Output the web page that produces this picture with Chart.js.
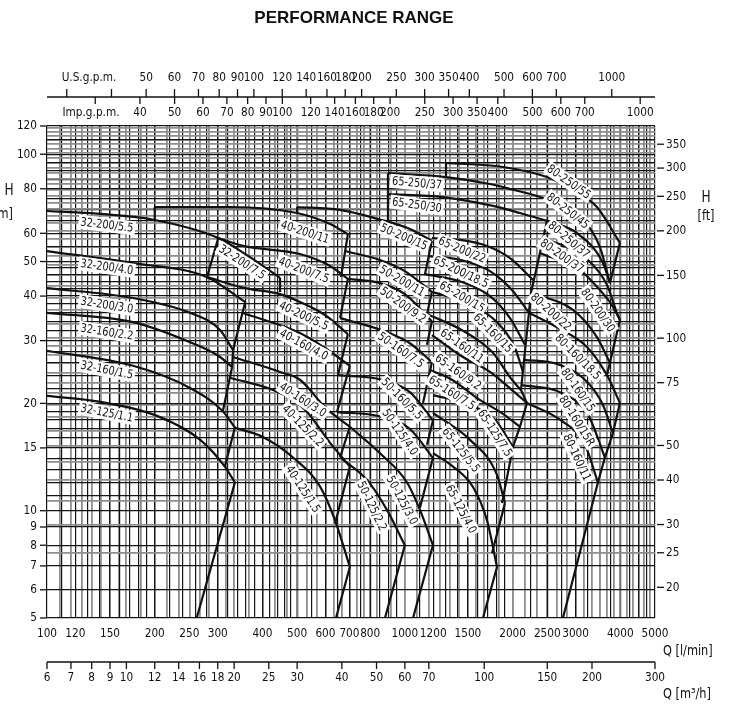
<!DOCTYPE html>
<html>
<head>
<meta charset="utf-8">
<script src="https://cdn.jsdelivr.net/npm/chart.js@4.4.1/dist/chart.umd.min.js"></script>
<style>
  html, body { margin: 0; padding: 0; background: #fff; }
  #wrap { width: 729px; height: 718px; }
</style>
</head>
<body>
<div id="wrap"><canvas id="perfChart" width="729" height="718"></canvas></div>
<script>
// tick labels of the six axes
const qTicks = [100, 120, 150, 200, 250, 300, 400, 500, 600, 700, 800, 1000, 1200, 1500, 2000, 2500, 3000, 4000, 5000];
const hTicks = [5, 6, 7, 8, 9, 10, 15, 20, 30, 40, 50, 60, 80, 100, 120];
const ftTicks = [20, 25, 30, 40, 50, 75, 100, 150, 200, 250, 300, 350];
const m3hTicks = [6, 7, 8, 9, 10, 12, 14, 16, 18, 20, 25, 30, 40, 50, 60, 70, 100, 150, 200, 300];
const usGpmTicks = [50, 60, 70, 80, 90, 100, 120, 140, 160, 180, 200, 250, 300, 350, 400, 500, 600, 700, 1000];
const usGpmMinor = [30, 40];
const impGpmTicks = [40, 50, 60, 70, 80, 90, 100, 120, 140, 160, 180, 200, 250, 300, 350, 400, 500, 600, 700, 1000];
const impGpmMinor = [30];

// pump curves, [Q l/min, H m]
const c32_200_55 = [[100, 69.3], [141, 68.0], [200, 65.4], [301, 58.2], [362, 52.1], [448, 45.0]];
const c32_200_40 = [[100, 53.5], [174, 49.5], [280, 45.2], [358, 38.5]];
const c32_200_30 = [[100, 42.1], [174, 39.5], [251, 35.9], [305, 32.1], [331, 28.2]];
const c32_160_22 = [[100, 35.9], [174, 33.8], [251, 29.7], [301, 27.2], [329, 25.3]];
const c32_160_15 = [[100, 28.1], [174, 25.5], [251, 22.1], [310, 19.0], [335, 17.1]];
const c32_125_11 = [[100, 21.0], [141, 20.2], [207, 18.3], [268, 15.8], [314, 13.3], [335, 12.0]];

const c40_200_11 = [[200, 71.1], [325, 71.1], [500, 68.4], [618, 63.7], [693, 59.7]];
const c40_200_75 = [[301, 58.2], [353, 55.3], [509, 52.5], [618, 48.6], [693, 44.7]];
const c40_200_55 = [[280, 45.2], [358, 42.1], [448, 40.5], [509, 38.5], [598, 35.4], [693, 31.3]];
const c40_160_40 = [[351, 35.9], [509, 31.5], [598, 28.6], [702, 25.5]];
const c40_160_30 = [[331, 27.0], [448, 24.5], [509, 23.3], [602, 19.4], [702, 17.2]];
const c40_125_22 = [[325, 23.6], [448, 21.4], [526, 19.2], [618, 15.5], [702, 13.3]];
const c40_125_15 = [[335, 17.1], [401, 16.1], [487, 14.1], [579, 11.7], [638, 9.4], [702, 6.95]];

const c50_200_15 = [[500, 71.1], [659, 69.8], [841, 65.8], [1033, 61.7], [1190, 57.1]];
const c50_200_11 = [[680, 53.5], [852, 50.5], [1000, 47.0], [1190, 41.1]];
const c50_200_92 = [[693, 44.7], [852, 43.5], [1000, 40.5], [1190, 34.0]];
const c50_160_75 = [[659, 34.7], [891, 31.7], [1033, 29.5], [1190, 26.1]];
const c50_160_55 = [[650, 24.0], [863, 23.3], [1033, 21.5], [1198, 17.9]];
const c50_125_40 = [[646, 18.9], [852, 18.4], [1033, 16.95], [1198, 14.05]];
const c50_125_30 = [[702, 17.2], [852, 14.5], [1014, 12.0], [1102, 10.05], [1198, 8.0]];
const c50_125_22 = [[659, 14.1], [784, 12.2], [891, 10.05], [1000, 8.0]];

const c65_250_37 = [[897, 88.5], [1303, 86.3], [1729, 82.5], [1967, 79.9], [2495, 74.6], [3145, 65.4], [3508, 54.9], [3741, 43.5]];
const c65_250_30 = [[897, 77.3], [1278, 75.8], [1763, 71.6], [2097, 68.4], [2495, 65.0]];
const c65_200_22 = [[1190, 58.2], [1426, 57.5], [1696, 55.3], [1967, 51.1], [2280, 44.4]];
const c65_200_185 = [[1168, 51.8], [1435, 50.5], [1729, 47.0], [1992, 41.6], [2222, 35.9]];
const c65_200_15 = [[1138, 46.1], [1444, 43.8], [1729, 40.0], [1967, 34.7], [2166, 29.2]];
const c65_160_15 = [[1190, 41.1], [1521, 38.0], [1809, 33.8], [2031, 28.6], [2138, 24.5]];
const c65_160_11 = [[1153, 35.6], [1444, 32.1], [1752, 27.9], [1992, 23.3], [2111, 21.8]];
const c65_160_92 = [[1190, 31.1], [1426, 27.3], [1729, 24.5], [1992, 21.8], [2194, 20.05]];
const c65_160_75 = [[1175, 24.8], [1354, 23.3], [1591, 20.7], [1880, 18.7], [2097, 17.2]];
const c65_125_75 = [[1198, 21.1], [1521, 19.8], [1786, 18.0], [2005, 15.1]];
const c65_125_55 = [[1198, 18.8], [1521, 15.8], [1809, 12.6], [1904, 10.5]];
const c65_125_40 = [[1198, 14.5], [1363, 13.3], [1550, 11.65], [1696, 9.4], [1809, 6.95]];

const c80_250_55 = [[1303, 94.5], [1880, 92.1], [2495, 86.3], [2893, 80.4], [3441, 71.1], [3990, 56.4]];
const c80_250_37 = [[2495, 65.0], [3026, 60.1], [3577, 49.5], [3741, 43.5]];
const c80_200_37 = [[2416, 58.6], [3248, 50.5], [3670, 43.0], [3913, 35.9], [3990, 34.3]];
const c80_200_30 = [[2385, 52.8], [3085, 47.3], [3508, 41.6], [3790, 37.75], [3990, 34.3]];
const c80_200_22 = [[2251, 40.8], [2949, 36.6], [3441, 30.7], [3741, 26.0]];
const c80_160_185 = [[2222, 35.9], [2661, 32.7], [3227, 28.8], [3670, 24.0], [3990, 20.05]];
const c80_160_15 = [[2152, 26.5], [2661, 25.8], [3186, 23.3], [3577, 19.8], [3814, 16.5]];
const c80_160_15r = [[2124, 22.5], [2712, 21.5], [3248, 18.6], [3623, 14.1]];
const c80_160_11 = [[2194, 20.05], [2712, 18.0], [3186, 15.3], [3463, 12.0]];

// range limits (straight edges), [Q l/min, H m]
const edge32 = [[448, 45.0], [448, 41.1]];
const edge32b = [[301, 58.2], [280, 45.2]];
const edge32c = [[358, 38.5], [331, 28.2], [329, 25.3], [310, 19.0]];
const edge32d = [[335, 17.1], [314, 13.3]];
const edge32e = [[335, 12.0], [262, 5]];
const step40 = [[200, 65.4], [200, 71.1]];
const edge40a = [[693, 59.7], [663, 45.2]];
const edge40b = [[693, 44.7], [659, 34.7]];
const edge40c = [[693, 31.3], [650, 24.0]];
const edge40d = [[702, 25.5], [646, 18.9]];
const edge40e = [[702, 17.2], [659, 14.1]];
const edge40f = [[702, 13.3], [638, 9.2]];
const edge40g = [[702, 6.95], [642, 5]];
const step50 = [[500, 68.4], [500, 71.1]];
const edge50a = [[1190, 57.1], [1138, 46.1]];
const edge50b = [[1190, 41.1], [1153, 35.6]];
const edge50c = [[1190, 34.0], [1153, 29.2]];
const edge50d = [[1190, 26.1], [1124, 20.05]];
const edge50e = [[1198, 17.9], [1153, 15.3]];
const edge50f = [[1198, 14.05], [1102, 10.2]];
const edge50g = [[1198, 8.0], [1054, 5]];
const edge50h = [[1000, 8.0], [880, 5]];
const box65 = [[897, 88.5], [897, 64.1]];
const edge65a = [[2495, 65.0], [2385, 52.8], [2251, 40.8], [2111, 21.8], [2194, 20.05], [2097, 17.2], [2005, 15.1], [1868, 10.5]];
const edge65b = [[1904, 10.5], [1752, 7.6]];
const edge65c = [[1809, 6.95], [1653, 5]];
const step80 = [[1303, 86.3], [1303, 94.5]];
const edge80a = [[3990, 56.4], [3741, 43.5]];
const edge80b = [[3990, 34.3], [3741, 26.0], [3670, 24.0]];
const edge80c = [[3990, 20.05], [3814, 16.5], [3623, 14.1], [3463, 12.0], [2765, 5]];

// curve names: [text, Q, H, angle deg]
const curveLabels = [
  ['32-200/5.5', 147, 63.3, 7], ['32-200/4.0', 147, 48.25, 8], ['32-200/3.0', 147, 37.75, 9],
  ['32-160/2.2', 147, 31.7, 9], ['32-160/1.5', 147, 24.8, 11], ['32-125/1.1', 147, 18.8, 11],
  ['32-200/7.5', 351, 49.8, 33],
  ['40-200/11', 526, 60.5, 18], ['40-200/7.5', 522, 47.3, 21], ['40-200/5.5', 522, 35.2, 25],
  ['40-160/4.0', 522, 29.2, 28], ['40-160/3.0', 519, 20.45, 33], ['40-125/2.2', 519, 17.3, 45],
  ['40-125/1.5', 519, 11.5, 57],
  ['50-200/15', 994, 58.6, 23], ['50-200/11', 982, 44.1, 30], ['50-200/9.2', 988, 37.75, 35],
  ['50-160/7.5', 975, 28.2, 35], ['50-160/5.5', 982, 20.6, 45], ['50-125/4.0', 969, 16.6, 55],
  ['50-125/3.0', 982, 10.7, 62], ['50-125/2.2', 809, 10.3, 64],
  ['65-250/37', 1081, 83.0, 5], ['65-250/30', 1081, 72.0, 8],
  ['65-200/22', 1444, 53.9, 23], ['65-200/18.5', 1435, 46.7, 25], ['65-200/15', 1444, 39.8, 30],
  ['65-160/15', 1763, 31.5, 45], ['65-160/11', 1444, 29.0, 35], ['65-160/9.2', 1408, 24.5, 35],
  ['65-160/7.5', 1354, 21.4, 33], ['65-125/7.5', 1786, 16.5, 57], ['65-125/5.5', 1435, 14.8, 52],
  ['65-125/4.0', 1435, 10.1, 62],
  ['80-250/55', 2874, 83.6, 35], ['80-250/45', 2856, 69.3, 38], ['80-250/37', 2874, 57.5, 40],
  ['80-200/37', 2748, 51.8, 35], ['80-200/30', 3463, 36.5, 55], ['80-200/22', 2560, 36.1, 42],
  ['80-160/18.5', 3045, 27.0, 45], ['80-160/15', 3045, 21.8, 55], ['80-160/15R', 3026, 17.85, 58],
  ['80-160/11', 3026, 14.1, 65]
];

const FT = 0.3048, USG = 3.78541, IMPG = 4.54609, M3H = 1000 / 60;
const FONT = "'DejaVu Sans Condensed','Liberation Sans Narrow','DejaVu Sans',sans-serif";
const SQUEEZE = 0.9;
const BLACK = '#141414', GRAY = '#8e8e8e', INK = '#111';

// chart-paper grid
function steps(ranges) {
  const out = [];
  ranges.forEach(([a, b, s]) => { for (let v = a; v <= b + 1e-9; v += s) out.push(+v.toFixed(4)); });
  return out;
}
const qGridBlack = steps([[100, 200, 10], [220, 500, 20], [550, 1000, 50], [1100, 2000, 100], [2250, 5000, 250]]);
const qGridGray = steps([[6.5, 10, 0.5], [11, 20, 1], [22, 50, 2], [55, 100, 5], [110, 290, 10]]).map(v => v * M3H);
const hGridBlack = steps([[5, 20, 1], [22, 50, 2], [55, 100, 5], [110, 120, 10]]);
const hGridGray = steps([[25, 100, 5], [110, 390, 10]]).map(v => v * FT);

function gridTicks(black, gray) {
  return gray.map(v => ({ value: v, gray: true }))
    .concat(black.map(v => ({ value: v, gray: false })))
    .sort((a, b) => a.value - b.value);
}

const smooth = [c32_200_55, c32_200_40, c32_200_30, c32_160_22, c32_160_15, c32_125_11,
  c40_200_11, c40_200_75, c40_200_55, c40_160_40, c40_160_30, c40_125_22, c40_125_15,
  c50_200_15, c50_200_11, c50_200_92, c50_160_75, c50_160_55, c50_125_40, c50_125_30, c50_125_22,
  c65_250_37, c65_250_30, c65_200_22, c65_200_185, c65_200_15, c65_160_15, c65_160_11, c65_160_92,
  c65_160_75, c65_125_75, c65_125_55, c65_125_40,
  c80_250_55, c80_250_37, c80_200_37, c80_200_30, c80_200_22, c80_160_185, c80_160_15, c80_160_15r, c80_160_11];
const straight = [edge32, edge32b, edge32c, edge32d, edge32e, step40, edge40a, edge40b, edge40c, edge40d,
  edge40e, edge40f, edge40g, step50, edge50a, edge50b, edge50c, edge50d, edge50e, edge50f, edge50g, edge50h,
  box65, edge65a, edge65b, edge65c, step80, edge80a, edge80b, edge80c];

const datasets = smooth.map(d => ({
  data: d.map(([x, y]) => ({ x, y })), cubicInterpolationMode: 'monotone'
})).concat(straight.map(d => ({
  data: d.map(([x, y]) => ({ x, y })), tension: 0
})));

// narrow text, like the drawing office lettering of the original
function text(ctx, s, x, y, align) {
  ctx.save();
  ctx.translate(x, y);
  ctx.scale(SQUEEZE, 1);
  ctx.textAlign = align;
  ctx.fillText(s, 0, 0);
  ctx.restore();
}

const overlay = {
  id: 'overlay',
  afterDatasetsDraw(chart) {
    const { ctx, scales: { x, y } } = chart;
    ctx.save();
    ctx.font = '12px ' + FONT;
    ctx.textBaseline = 'middle';
    curveLabels.forEach(([t, q, h, a]) => {
      const w = ctx.measureText(t).width * SQUEEZE + 4;
      ctx.save();
      ctx.translate(x.getPixelForValue(q), y.getPixelForValue(h));
      ctx.rotate(a * Math.PI / 180);
      ctx.fillStyle = '#fff';
      ctx.fillRect(-w / 2, -7, w, 14);
      ctx.fillStyle = INK;
      text(ctx, t, 0, 0.5, 'center');
      ctx.restore();
    });
    ctx.restore();
  },
  afterDraw(chart) {
    const { ctx, scales: { x, y }, chartArea: a } = chart;
    ctx.save();
    ctx.strokeStyle = INK;
    ctx.fillStyle = INK;
    ctx.lineWidth = 1.3;
    const line = (x1, y1, x2, y2) => { ctx.beginPath(); ctx.moveTo(x1, y1); ctx.lineTo(x2, y2); ctx.stroke(); };
    ctx.font = '13px ' + FONT;
    ctx.textBaseline = 'middle';

    // left H [m]
    hTicks.forEach(h => { const py = y.getPixelForValue(h); line(a.left - 7, py, a.left, py); text(ctx, String(h), a.left - 10, py, 'right'); });
    // right H [ft]
    ftTicks.forEach(f => { const py = y.getPixelForValue(f * FT); line(a.right + 2, py, a.right + 9, py); text(ctx, String(f), a.right + 11, py, 'left'); });
    // bottom Q [l/min]
    qTicks.forEach(q => text(ctx, String(q), x.getPixelForValue(q), a.bottom + 16, 'center'));
    // Q [m3/h]
    const yM = a.bottom + 44;
    line(a.left, yM, a.right, yM);
    m3hTicks.forEach(m => { const px = x.getPixelForValue(m * M3H); line(px, yM, px, yM + 7); text(ctx, String(m), px, yM + 16, 'center'); });
    // top gpm scales
    const yG = a.top - 29;
    line(a.left, yG, a.right, yG);
    usGpmTicks.concat(usGpmMinor).forEach(g => { const px = x.getPixelForValue(g * USG); line(px, yG - 8, px, yG); });
    usGpmTicks.forEach(g => text(ctx, String(g), x.getPixelForValue(g * USG), yG - 19, 'center'));
    impGpmTicks.concat(impGpmMinor).forEach(g => { const px = x.getPixelForValue(g * IMPG); line(px, yG, px, yG + 7); });
    impGpmTicks.forEach(g => text(ctx, String(g), x.getPixelForValue(g * IMPG), yG + 16, 'center'));
    text(ctx, 'U.S.g.p.m.', 89, yG - 19, 'center');
    text(ctx, 'Imp.g.p.m.', 91, yG + 16, 'center');

    // axis titles
    ctx.font = '15px ' + FONT;
    text(ctx, 'H', 9, 191, 'center');
    text(ctx, 'H', 706, 198, 'center');
    ctx.font = '14px ' + FONT;
    text(ctx, '[ft]', 706, 216, 'center');
    text(ctx, '[m]', 13, 214, 'right');
    text(ctx, 'Q [l/min]', 663, 651, 'left');
    text(ctx, 'Q [m³/h]', 663, 694, 'left');

    ctx.font = "bold 17px 'Liberation Sans', Arial, sans-serif";
    ctx.textAlign = 'center';
    ctx.fillText('PERFORMANCE RANGE', 354, 18);
    ctx.restore();
  }
};

const perfChart = new Chart(document.getElementById('perfChart').getContext('2d'), {
  type: 'line',
  data: { datasets },
  options: {
    responsive: false,
    animation: false,
    devicePixelRatio: 1,
    layout: { padding: { left: 47, right: 74, top: 126, bottom: 100 } },
    plugins: { legend: { display: false }, tooltip: { enabled: false } },
    elements: {
      point: { radius: 0, hitRadius: 0 },
      line: { borderColor: INK, borderWidth: 2.2, fill: false }
    },
    scales: {
      x: {
        type: 'logarithmic', min: 100, max: 5000,
        ticks: { display: false }, border: { display: false },
        grid: {
          drawTicks: false,
          color: c => (c.tick && c.tick.gray ? GRAY : BLACK),
          lineWidth: c => (c.tick && c.tick.gray ? 1.8 : 1.2)
        },
        afterBuildTicks: s => { s.ticks = gridTicks(qGridBlack, qGridGray); },
        afterFit: s => { s.height = 0; }
      },
      y: {
        type: 'logarithmic', min: 5, max: 120,
        ticks: { display: false }, border: { display: false },
        grid: {
          drawTicks: false,
          color: c => (c.tick && c.tick.gray ? GRAY : BLACK),
          lineWidth: c => (c.tick && c.tick.gray ? 1.8 : 1.2)
        },
        afterBuildTicks: s => { s.ticks = gridTicks(hGridBlack, hGridGray); },
        afterFit: s => { s.width = 0; }
      }
    }
  },
  plugins: [overlay]
});
</script>
</body>
</html>
